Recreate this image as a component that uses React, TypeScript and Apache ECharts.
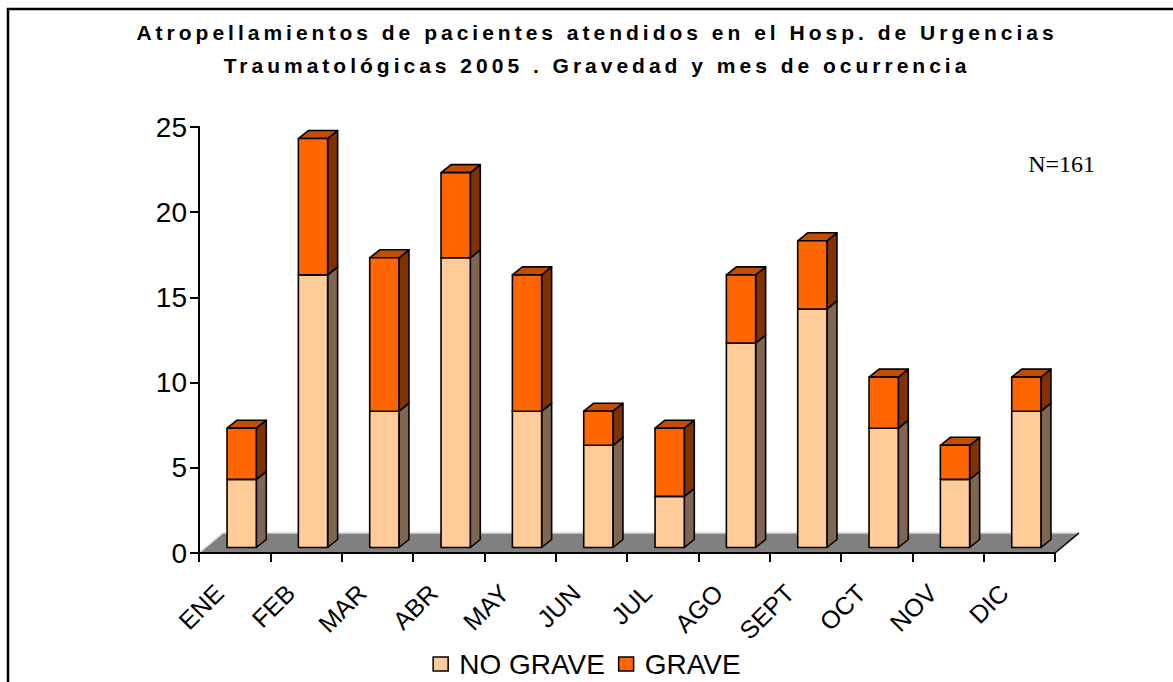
import React, { useEffect, useRef } from "react";
import * as echarts from "echarts";

// ---- data ----
const months = ["ENE", "FEB", "MAR", "ABR", "MAY", "JUN", "JUL", "AGO", "SEPT", "OCT", "NOV", "DIC"];
const noGrave = [4, 16, 8, 17, 8, 6, 3, 12, 14, 7, 4, 8];
const grave = [3, 8, 9, 5, 8, 2, 4, 4, 4, 3, 2, 2];
const seriesNames = ["NO GRAVE", "GRAVE"];
const yMin = 0;
const yMax = 25;
const yStep = 5;
const titleLines = [
  "Atropellamientos de pacientes atendidos en el Hosp. de Urgencias",
  "Traumatológicas 2005 . Gravedad y mes de ocurrencia",
];
const noteText = "N=161";

// ---- styles ----
const FONT = "'Liberation Sans', Arial, sans-serif";
const COLORS = {
  noGrave: { front: "#FFCC99", side: "#806650", top: "#CCA37A" },
  grave: { front: "#FF6600", side: "#803300", top: "#C44E00" },
};
const FRONT_DX = 7;
const FRONT_DY = -5.5;
const DEPTH_DX = 10;
const DEPTH_DY = -8;
const FLOOR_DX = 24;
const FLOOR_DY = -20;

function barRenderer(c: { front: string; side: string; top: string }) {
  return (params: any, api: any) => {
    const i = api.value(0);
    const lo = api.value(1);
    const hi = api.value(2);
    const band = api.size([1, 0])[0];
    const w = band * 0.41;
    const pLo = api.coord([i, lo]);
    const pHi = api.coord([i, hi]);
    const x0 = pLo[0] - w / 2 + FRONT_DX;
    const x1 = x0 + w;
    const yb = pLo[1] + FRONT_DY;
    const yt = pHi[1] + FRONT_DY;
    const ls = { stroke: "#000", lineWidth: 1.6, lineJoin: "round" };
    return {
      type: "group",
      children: [
        {
          type: "polygon",
          shape: { points: [[x1, yb], [x1 + DEPTH_DX, yb + DEPTH_DY], [x1 + DEPTH_DX, yt + DEPTH_DY], [x1, yt]] },
          style: { fill: c.side, ...ls },
        },
        {
          type: "polygon",
          shape: { points: [[x0, yt], [x1, yt], [x1 + DEPTH_DX, yt + DEPTH_DY], [x0 + DEPTH_DX, yt + DEPTH_DY]] },
          style: { fill: c.top, ...ls },
        },
        {
          type: "rect",
          shape: { x: x0, y: yt, width: w, height: yb - yt },
          style: { fill: c.front, ...ls },
        },
      ],
    };
  };
}

function floorRenderer(params: any, api: any) {
  const n = months.length;
  const band = api.size([1, 0])[0];
  const pL = api.coord([0, 0]);
  const pR = api.coord([n - 1, 0]);
  const xl = pL[0] - band / 2;
  const xr = pR[0] + band / 2;
  const y = pL[1];
  return {
    type: "group",
    children: [
      {
        type: "polygon",
        shape: { points: [[xl, y], [xr, y], [xr + FLOOR_DX, y + FLOOR_DY], [xl + FLOOR_DX, y + FLOOR_DY]] },
        style: { fill: "#808080", stroke: "none" },
      },
      {
        type: "polyline",
        shape: { points: [[xl, y], [xl + FLOOR_DX, y + FLOOR_DY], [xr + FLOOR_DX, y + FLOOR_DY]] },
        style: { stroke: "#D8D8D8", lineWidth: 1.5, fill: "none" },
      },
      {
        type: "line",
        shape: { x1: xr, y1: y, x2: xr + FLOOR_DX, y2: y + FLOOR_DY },
        style: { stroke: "#000", lineWidth: 1.6 },
      },
    ],
  };
}

export default function App() {
  const ref = useRef<HTMLDivElement>(null);

  useEffect(() => {
    if (!ref.current) return;
    const chart = echarts.init(ref.current, null, { renderer: "svg" });
    const noGraveData = months.map((_, i) => [i, 0, noGrave[i]]);
    const graveData = months.map((_, i) => [i, noGrave[i], noGrave[i] + grave[i]]);

    chart.setOption({
      animation: false,
      backgroundColor: "#fff",
      grid: { left: 199, right: 118, top: 127, bottom: 129, containLabel: false },
      xAxis: {
        type: "category",
        data: months,
        z: 10,
        axisLine: { lineStyle: { color: "#000", width: 2 } },
        axisTick: { show: true, length: 9, lineStyle: { color: "#000", width: 2 } },
        axisLabel: {
          interval: 0,
          rotate: 45,
          fontSize: 25,
          fontFamily: FONT,
          color: "#000",
          margin: 20,
          padding: [0, 22, 0, 0],
        },
        splitLine: { show: false },
      },
      yAxis: {
        type: "value",
        min: yMin,
        max: yMax,
        interval: yStep,
        z: 10,
        axisLine: { show: true, lineStyle: { color: "#000", width: 2 } },
        axisTick: { show: true, length: 9, lineStyle: { color: "#000", width: 2 } },
        axisLabel: { fontSize: 28, fontFamily: FONT, color: "#000", margin: 12 },
        splitLine: { show: false },
      },
      legend: {
        left: "center",
        top: 645,
        itemWidth: 15,
        itemHeight: 14,
        itemGap: 13,
        icon: "rect",
        textStyle: { fontSize: 28, fontFamily: FONT, color: "#000", padding: [0, 0, 0, 6] },
        data: [
          { name: seriesNames[0], itemStyle: { color: COLORS.noGrave.front, borderColor: "#000", borderWidth: 1.5 } },
          { name: seriesNames[1], itemStyle: { color: COLORS.grave.front, borderColor: "#000", borderWidth: 1.5 } },
        ],
      },
      graphic: [
        {
          type: "rect",
          shape: { x: 8, y: 9, width: 1300, height: 800 },
          style: { fill: "none", stroke: "#000", lineWidth: 2.5 },
          silent: true,
        },
        {
          type: "text",
          x: 597,
          y: 48.5,
          style: {
            text: titleLines.join("\n"),
            textAlign: "center",
            textVerticalAlign: "middle",
            fontSize: 21,
            fontWeight: "bold",
            fontFamily: FONT,
            lineHeight: 33,
            fill: "#000",
          },
        },
        {
          type: "text",
          x: 1095,
          y: 164,
          style: {
            text: noteText,
            textAlign: "right",
            textVerticalAlign: "middle",
            fontSize: 24,
            fontFamily: "'Liberation Serif', 'Times New Roman', serif",
            fill: "#000",
          },
        },
      ],
      series: [
        {
          type: "custom",
          z: 1,
          silent: true,
          renderItem: floorRenderer,
          data: [[0, 0]],
          encode: { x: 0, y: 1 },
        },
        {
          name: seriesNames[0],
          type: "custom",
          z: 2,
          renderItem: barRenderer(COLORS.noGrave),
          itemStyle: { color: COLORS.noGrave.front, borderColor: "#000", borderWidth: 1.5 },
          data: noGraveData,
          encode: { x: 0, y: [1, 2] },
        },
        {
          name: seriesNames[1],
          type: "custom",
          z: 3,
          renderItem: barRenderer(COLORS.grave),
          itemStyle: { color: COLORS.grave.front, borderColor: "#000", borderWidth: 1.5 },
          data: graveData,
          encode: { x: 0, y: [1, 2] },
        },
      ],
    });

    const spaceTitle = () => {
      const texts = ref.current ? ref.current.querySelectorAll("text") : [];
      texts.forEach((t: any) => {
        const s = t.textContent || "";
        if (titleLines.some((l) => s.indexOf(l.slice(0, 12)) === 0)) {
          t.setAttribute("letter-spacing", "4");
        }
      });
    };
    chart.on("finished", spaceTitle);
    spaceTitle();

    return () => {
      chart.dispose();
    };
  }, []);

  return (
    <div
      ref={ref}
      style={{ position: "absolute", left: 0, top: 0, width: 1173, height: 682, background: "#fff" }}
    />
  );
}
